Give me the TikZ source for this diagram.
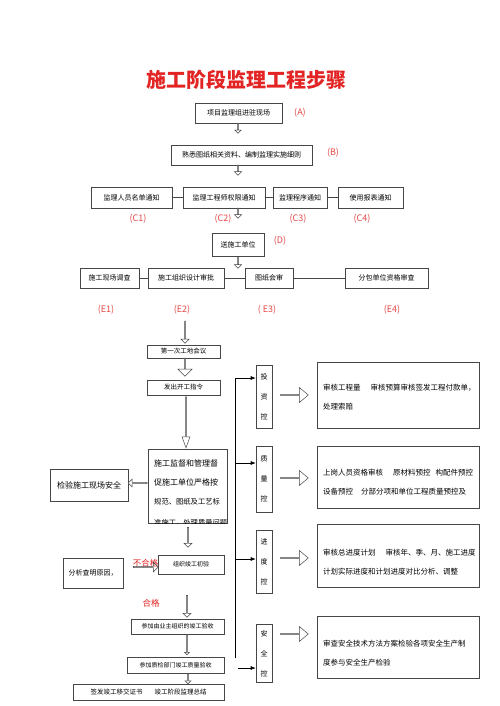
\documentclass[tikz,border=0pt]{standalone}
\usepackage{fontspec}
\setmainfont{Noto Sans CJK SC}
\usetikzlibrary{shapes.arrows,arrows.meta,calc}
\definecolor{tred}{RGB}{226,36,36}
\definecolor{lred}{RGB}{232,72,72}
\definecolor{bx}{RGB}{70,70,70}
\begin{document}
\begin{tikzpicture}[x=1pt,y=-1pt,
  box/.style={draw=bx,line width=0.6pt,fill=white,inner sep=0pt,align=center,font=\fontsize{7}{8}\selectfont},
  vbox/.style={box,minimum width=16,font=\fontsize{7}{20}\selectfont},
  rbox/.style={box,minimum width=162},
  txt/.style={inner sep=0pt,anchor=west,align=left,font=\fontsize{7.5}{19}\selectfont},
  btxt/.style={inner sep=0pt,anchor=west,font=\fontsize{8}{9}\selectfont},
  lbl/.style={text=lred,inner sep=0pt,font=\fontsize{9}{10}\selectfont},
  link/.style={draw=bx,line width=0.6pt},
  parrow/.style={draw=black,line width=0.6pt,-{Latex[length=5pt,width=4pt]}},
  barrow/.style={single arrow,draw=bx,fill=white,line width=0.5pt,inner sep=0pt},
]
\useasboundingbox (0,0) rectangle (500,706);
\fill[white] (0,0) rectangle (500,706);

% title
\node[text=tred,font=\fontsize{20}{22}\selectfont\bfseries] (title) at (246,80) {施工阶段监理工程步骤};

% top chain
\node[box,minimum width=87,minimum height=20] (A) at (238.5,113) {项目监理组进驻现场};
\node[lbl] (lA) at (300,113) {(A)};
\node[box,minimum width=141,minimum height=20] (B) at (241.5,155) {熟悉图纸相关资料、编制监理实施细则};
\node[lbl] (lB) at (333,153) {(B)};

\node[box,minimum width=81,minimum height=21] (C1) at (131.5,197.5) {监理人员名单通知};
\node[box,minimum width=82,minimum height=21] (C2) at (224,197.5) {监理工程师权限通知};
\node[box,minimum width=54,minimum height=21] (C3) at (300,197.5) {监理程序通知};
\node[box,minimum width=65,minimum height=21] (C4) at (370.5,197.5) {使用报表通知};
\draw[link] (C1.east) -- (C2.west);
\draw[link] (C2.east) -- (C3.west);
\draw[link] (C3.east) -- (C4.west);
\node[lbl] (lC1) at (138,219) {(C1)};
\node[lbl] (lC2) at (223,219) {(C2)};
\node[lbl] (lC3) at (298,219) {(C3)};
\node[lbl] (lC4) at (362,219) {(C4)};

\node[box,minimum width=52,minimum height=23] (D) at (238,244.5) {送施工单位};
\node[lbl] (lD) at (280,241) {(D)};

\node[box,minimum width=59,minimum height=20] (E1) at (109.5,278) {施工现场调查};
\node[box,minimum width=76,minimum height=20] (E2) at (186,278) {施工组织设计审批};
\node[box,minimum width=48,minimum height=20] (E3) at (269,278) {图纸会审};
\node[box,minimum width=83,minimum height=20] (E4) at (386.5,278) {分包单位资格审查};
\draw[link] (E1.east) -- (E2.west);
\draw[link] (E2.east) -- (E3.west);
\draw[link] (E3.east) -- (E4.west);
\node[lbl] (lE1) at (106,310) {(E1)};
\node[lbl] (lE2) at (182,310) {(E2)};
\node[lbl] (lE3) at (267,310) {( E3)};
\node[lbl] (lE4) at (392,310) {(E4)};

% block arrows top
\node[barrow,minimum height=10,minimum width=6,single arrow head extend=1.5,shape border rotate=270] (a1) at (238,128) {};
\node[barrow,minimum height=10,minimum width=7,single arrow head extend=2,shape border rotate=270] (a2) at (238,170) {};
\node[barrow,minimum height=10,minimum width=7,single arrow head extend=2,shape border rotate=270] (a3) at (238,213) {};
\node[barrow,minimum height=11,minimum width=7,single arrow head extend=2,shape border rotate=270] (a4) at (238,262.5) {};
\node[barrow,minimum height=22,minimum width=8,single arrow head extend=2,shape border rotate=270] (a5) at (185,332) {};

% left column
\node[box,minimum width=73,minimum height=13,font=\fontsize{6.5}{7}\selectfont] (F1) at (183.5,351.5) {第一次工地会议};
\node[barrow,minimum height=18,minimum width=14,single arrow head extend=3.5,shape border rotate=270] (a6) at (185,367) {};
\node[box,minimum width=73,minimum height=15,font=\fontsize{6.5}{7}\selectfont] (F2) at (183.5,387.5) {发出开工指令};
\node[barrow,minimum height=51,minimum width=8,single arrow head extend=1.5,single arrow tip angle=40,shape border rotate=270] (a7) at (186,421.5) {};

\node[box,minimum width=79,minimum height=74] (big) at (187.5,486) {};
\begin{scope}
\clip (big.north west) rectangle (big.south east);
\node[btxt] (bt1) at (154,463) {施工监督和管理督};
\node[btxt] (bt2) at (154,482) {促施工单位严格按};
\node[btxt,font=\fontsize{7.3}{8}\selectfont] (bt3) at (154,502) {规范、图纸及工艺标};
\node[btxt,font=\fontsize{7.3}{8}\selectfont] (bt4) at (154,522.5) {准施工，处理质量问题};
\end{scope}

\node[box,minimum width=78,minimum height=32,font=\fontsize{8}{9}\selectfont] (chk) at (89,485) {检验施工现场安全};
\node[barrow,minimum height=19,minimum width=8,single arrow head extend=1.5,shape border rotate=180] (a8) at (138,483) {};

\node[barrow,minimum height=20,minimum width=8,single arrow head extend=1.5,shape border rotate=270] (a9) at (188,537) {};
\node[box,minimum width=66,minimum height=19,font=\fontsize{6}{7}\selectfont] (G1) at (191,564.5) {组织竣工初验};
\node[box,minimum width=60,minimum height=30] (an) at (93,573) {分析查明原因，};
\node[text=tred,inner sep=0pt,font=\fontsize{8.5}{9}\selectfont] (ng) at (145.5,563) {不合格};
\node[barrow,fill=none,minimum height=25,minimum width=10,single arrow head extend=2,shape border rotate=0] (a10) at (145.5,567) {};
\node[text=tred,inner sep=0pt,font=\fontsize{8.5}{9}\selectfont] (ok) at (151,603) {合格};
\node[barrow,minimum height=22,minimum width=8,single arrow head extend=1.5,shape border rotate=270] (a11) at (187,606) {};
\node[box,minimum width=93,minimum height=15,font=\fontsize{6}{7}\selectfont] (G2) at (177.5,626.5) {参加由业主组织的竣工验收};
\node[barrow,minimum height=20,minimum width=5,single arrow head extend=1,shape border rotate=270] (a12) at (187,644.5) {};
\node[box,minimum width=97,minimum height=16,font=\fontsize{6}{7}\selectfont] (G3) at (175.5,665) {参加质检部门竣工质量验收};
\node[barrow,minimum height=10,minimum width=6,single arrow head extend=1,shape border rotate=270] (a13) at (188,678.5) {};
\node[box,minimum width=151,minimum height=16,font=\fontsize{6.5}{7}\selectfont] (G4) at (148.5,692) {签发竣工移交证书\hspace{12pt}竣工阶段监理总结};

% control column
\node[vbox,minimum height=63] (inv) at (264,396.5) {投\\资\\控};
\node[vbox,minimum height=66] (qual) at (264,479) {质\\量\\控};
\node[vbox,minimum height=63] (sch) at (264,562) {进\\度\\控};
\node[vbox,minimum height=58] (saf) at (264,653.5) {安\\全\\控};

\coordinate (vtop) at (235,378);
\coordinate (vbot) at (235,658);
\coordinate (vq) at (235,463);
\coordinate (vs) at (235,559);
\coordinate (vsf) at (238,668);
\draw[parrow] (vbot) -- (vtop) -- (vtop -| inv.west);
\draw[parrow] (vq) -- (vq -| qual.west);
\draw[parrow] (vs) -- (vs -| sch.west);
\draw[parrow] (vsf) -- (vsf -| saf.west);

% right arrows
\node[barrow,minimum height=28,minimum width=15,single arrow head extend=4,single arrow tip angle=80] (r1a) at (294,395) {};
\node[barrow,minimum height=28,minimum width=15,single arrow head extend=4,single arrow tip angle=80] (r2a) at (294,478) {};
\node[barrow,minimum height=28,minimum width=15,single arrow head extend=4,single arrow tip angle=80] (r3a) at (294,558) {};
\node[barrow,minimum height=28,minimum width=15,single arrow head extend=4,single arrow tip angle=80] (r4a) at (294,634) {};

% right boxes
\node[rbox,minimum height=66] (R1) at (398,395) {};
\node[rbox,minimum height=62] (R2) at (398,477) {};
\node[rbox,minimum height=63] (R3) at (398,555.5) {};
\node[rbox,minimum height=62] (R4) at (398,647) {};
\node[txt] (R1t) at (323,397.5) {审核工程量\hspace*{10pt}审核预算审核签发工程付款单，\\处理索赔};
\node[txt] (R2t) at (323,482) {上岗人员资格审核\hspace*{10pt}原材料预控\hspace*{5pt}构配件预控\\设备预控\hspace*{8pt}分部分项和单位工程质量预控及};
\node[txt] (R3t) at (323,562.5) {审核总进度计划\hspace*{10pt}审核年、季、月、施工进度\\计划实际进度和计划进度对比分析、调整};
\node[txt] (R4t) at (323,653) {审查安全技术方法方案检验各项安全生产制\\度参与安全生产检验};
\end{tikzpicture}
\end{document}
